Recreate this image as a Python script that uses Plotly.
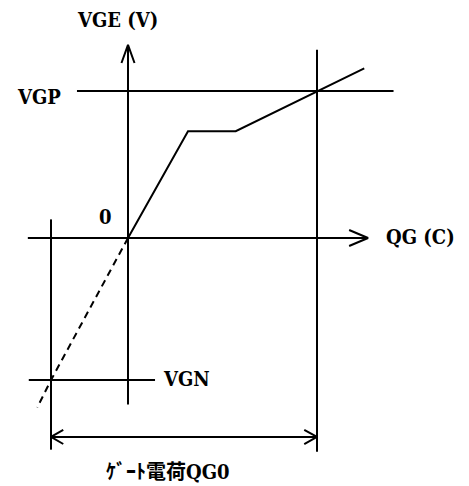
import plotly.graph_objects as go

# Gate charge characteristic (schematic units: QG in arbitrary charge units, VGE in volts)
VGP = 15.0          # gate drive voltage, positive
VGN = -14.5         # gate drive voltage, negative
Q_POS = 20.0        # charge at which VGE reaches VGP
Q_NEG = -8.15       # charge at which VGE reaches VGN (extension of the first slope)

# Charging curve: linear rise, Miller plateau, second rise past VGP
curve_q = [0.0, 6.35, 11.4, Q_POS, 25.0]
curve_v = [0.0, 10.9, 10.9, VGP, 17.3]

# Dashed extension of the first slope into the negative region
ext_q = [0.0, Q_NEG, -9.6]
ext_v = [0.0, VGN, -17.3]

# Axis extents
x_axis_q = [-10.6, 25.4]
y_axis_v = [-17.0, 19.7]

# Reference lines
vgp_line_q = [-5.4, 28.1]
vgn_line_q = [-10.5, 2.86]
pos_line_v = [-21.8, 19.2]
neg_line_v = [-21.6, 1.9]
span_v = -20.3      # level of the QG0 dimension arrow

# Plot extents
X_RANGE = [-13.545, 36.085]
Y_RANGE = [-25.306, 24.286]

LINE = dict(color="black", width=2)
FONT = dict(family="DejaVu Serif Condensed, DejaVu Serif, Noto Sans CJK JP",
            size=20, color="black", weight="bold")

fig = go.Figure()


def seg(xs, ys, dash=None):
    ln = dict(LINE)
    if dash:
        ln["dash"] = dash
    fig.add_trace(go.Scatter(x=xs, y=ys, mode="lines", line=ln,
                             hoverinfo="skip", showlegend=False))


def open_head(tip_x, tip_y, dx, dy):
    # two short strokes meeting at the tip (open arrowhead)
    seg([tip_x + dx[0], tip_x, tip_x + dx[1]], [tip_y + dy[0], tip_y, tip_y + dy[1]])


# axes
seg(x_axis_q, [0, 0])
seg([0, 0], y_axis_v)
open_head(x_axis_q[1], 0, (-2.0, -2.0), (0.82, -0.82))
open_head(0, y_axis_v[1], (-0.69, 0.69), (-1.84, -1.84))

# horizontal references
seg(vgp_line_q, [VGP, VGP])
seg(vgn_line_q, [VGN, VGN])

# vertical references
seg([Q_POS, Q_POS], pos_line_v)
seg([Q_NEG, Q_NEG], neg_line_v)

# curve and its extension
seg(curve_q, curve_v)
seg(ext_q, ext_v, dash="7px,5px")

# QG0 dimension arrow
seg([Q_NEG, Q_POS], [span_v, span_v])
open_head(Q_NEG, span_v, (1.3, 1.3), (0.72, -0.72))
open_head(Q_POS, span_v, (-1.35, -1.35), (0.72, -0.72))

labels = [
    ("VGE (V)", -1.16, 22.24),
    ("VGP", -9.42, 14.39),
    ("0", -2.43, 2.14),
    ("QG (C)", 30.9, 0.1),
    ("VGN", 6.14, -14.4),
    ("ｹﾞｰﾄ電荷QG0", 4.23, -23.9),
]
for text, x, y in labels:
    fig.add_annotation(x=x, y=y, text=text, showarrow=False,
                       xanchor="center", yanchor="middle", font=FONT)

fig.update_layout(
    width=469, height=486,
    margin=dict(l=0, r=0, t=0, b=0),
    paper_bgcolor="white", plot_bgcolor="white",
    xaxis=dict(range=X_RANGE, visible=False, fixedrange=True),
    yaxis=dict(range=Y_RANGE, visible=False, fixedrange=True),
)

fig.write_html("out.html")
